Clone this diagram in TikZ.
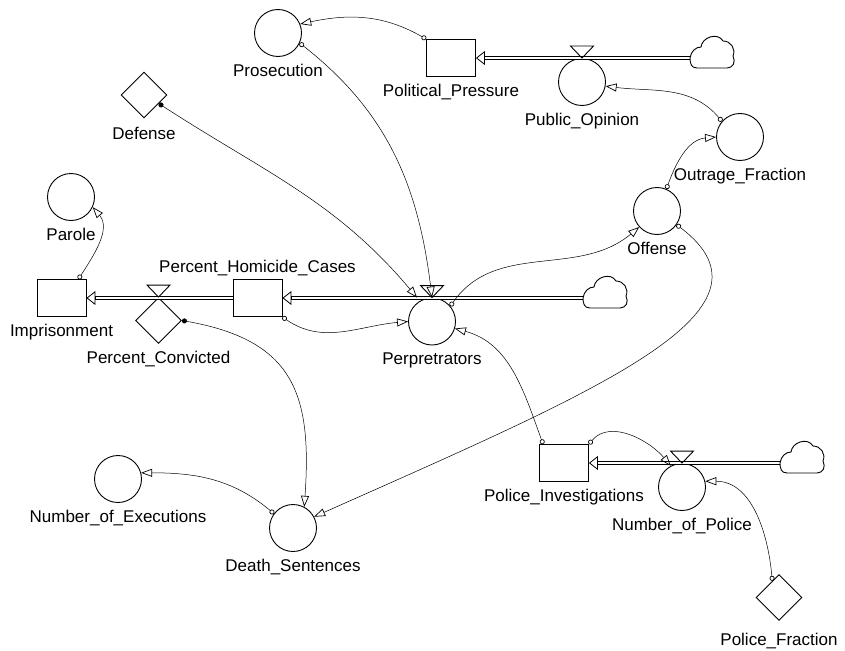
\documentclass[tikz,border=0pt]{standalone}
\usepackage{fontspec}
\setmainfont{Liberation Sans}
\usetikzlibrary{positioning,shapes.geometric,arrows.meta}

\tikzset{
  stock/.style={rectangle, draw, line width=.9pt, minimum width=49pt, minimum height=37pt, inner sep=0pt},
  auxc/.style={circle, draw, line width=.9pt, minimum size=47pt, inner sep=0pt},
  constd/.style={diamond, draw, line width=.9pt, minimum size=46pt, inner sep=0pt},
  pipe/.style={draw, line width=3.2pt, arrows={-Triangle[open,length=9pt,width=14pt,line width=.8pt]},
    postaction={draw=white, line width=1.6pt, arrows=-, shorten >=9.5pt}},
  infolink/.style={line width=.5pt, arrows={Circle[open,length=5pt,line width=.7pt]-Triangle[open,length=11pt,width=8pt,line width=.7pt]}},
  cslink/.style={line width=.5pt, arrows={Circle[length=5pt]-Triangle[open,length=11pt,width=8pt,line width=.7pt]}},
  valvepic/.pic={\draw[line width=.9pt] (0,0) -- (-11.5,12) -- (11.5,12) -- cycle;},
  cloudpic/.pic={\draw[line width=.9pt] (0,0) .. controls (1,7) and (6,11) .. (11,11)
      .. controls (12,21) and (28,26) .. (33,17) .. controls (41,17) and (46,9) .. (43,2)
      .. controls (46,-4) and (43,-10) .. (37,-10) -- (7,-10) .. controls (1,-10) and (0,-5) .. cycle;}
}

\begin{document}
\begin{tikzpicture}[x=1pt,y=1pt,font=\fontsize{17}{20}\selectfont,
    every label/.style={inner sep=1pt}, label distance=6pt]
  \useasboundingbox (0,0) rectangle (845,-650);

  % stocks
  \node[stock, label=below:Political\_Pressure] (polpress) at (451,-58) {};
  \node[stock, label={[label distance=2pt]above:Percent\_Homicide\_Cases}] (homicide) at (257.5,-298) {};
  \node[stock, label=below:Imprisonment] (prison) at (61.5,-298) {};
  \node[stock, label=below:Police\_Investigations] (investig) at (564,-463) {};

  % auxiliaries and rates
  \node[auxc, label=below:Prosecution] (pros) at (278,-33) {};
  \node[auxc, label=below:Public\_Opinion] (pubop) at (582,-82) {};
  \node[auxc, label=below:Outrage\_Fraction] (outrage) at (740,-137) {};
  \node[auxc, label=below:Offense] (offense) at (657,-211) {};
  \node[auxc, label=below:Parole] (parole) at (71,-197) {};
  \node[auxc, label=below:Perpretrators] (perp) at (432,-321.5) {};
  \node[auxc, label=below:Number\_of\_Executions] (execs) at (118,-479) {};
  \node[auxc, label=below:Death\_Sentences] (deaths) at (293,-528) {};
  \node[auxc, label=below:Number\_of\_Police] (police) at (682,-487) {};

  % constants
  \node[constd, label={[label distance=8pt]below:Defense}] (defense) at (144,-95) {};
  \node[constd, label=below:Percent\_Convicted] (convicted) at (158.5,-320.5) {};
  \node[constd, label={[label distance=11pt]below:Police\_Fraction}] (fraction) at (779,-597.5) {};

  % sources
  \coordinate (src1) at (690,-58);
  \coordinate (src2) at (583,-298);
  \coordinate (src3) at (780,-463);

  % flows
  \draw[pipe] (src1) -- (polpress.east);
  \draw[pipe] (src2) -- (homicide.east);
  \draw[pipe] (homicide.west) -- (prison.east);
  \draw[pipe] (src3) -- (investig.east);
  \pic at (src1) {cloudpic};
  \pic at (src2) {cloudpic};
  \pic at (src3) {cloudpic};
  \pic at (pubop.north) {valvepic};
  \pic at (perp.north) {valvepic};
  \pic at (convicted.north) {valvepic};
  \pic at (police.north) {valvepic};

  % information links
  \path[infolink]
    (polpress.north west) edge[out=150,in=12] (pros.22)
    (pros.-25) edge[out=-38,in=97] (perp.north)
    (homicide.south east) edge[out=-35,in=185] (perp.west)
    ([xshift=-8pt]prison.north east) edge[out=57,in=-50] (parole.-25)
    (deaths.143) edge[out=140,in=0] (execs.15)
    (perp.40) edge[out=55,in=-140] (offense.-138)
    (offense.67) edge[out=70,in=185] (outrage.west)
    (outrage.139) edge[out=130,in=-7] (pubop.-10)
    ([xshift=4pt]investig.north west) edge[out=110,in=-15] (perp.-17)
    (investig.north east) edge[out=50,in=130] (police.118)
    (offense.-35) edge[out=-37,in=24,out distance=143pt,in distance=311pt] (deaths.28)
    (fraction.112) edge[out=95,in=0] (police.14);
  \path[cslink]
    (defense.-30) edge[out=-33,in=130] ([xshift=-15pt]perp.north)
    (convicted.east) edge[out=-10,in=86,looseness=1.3] (deaths.62);
\end{tikzpicture}
\end{document}
